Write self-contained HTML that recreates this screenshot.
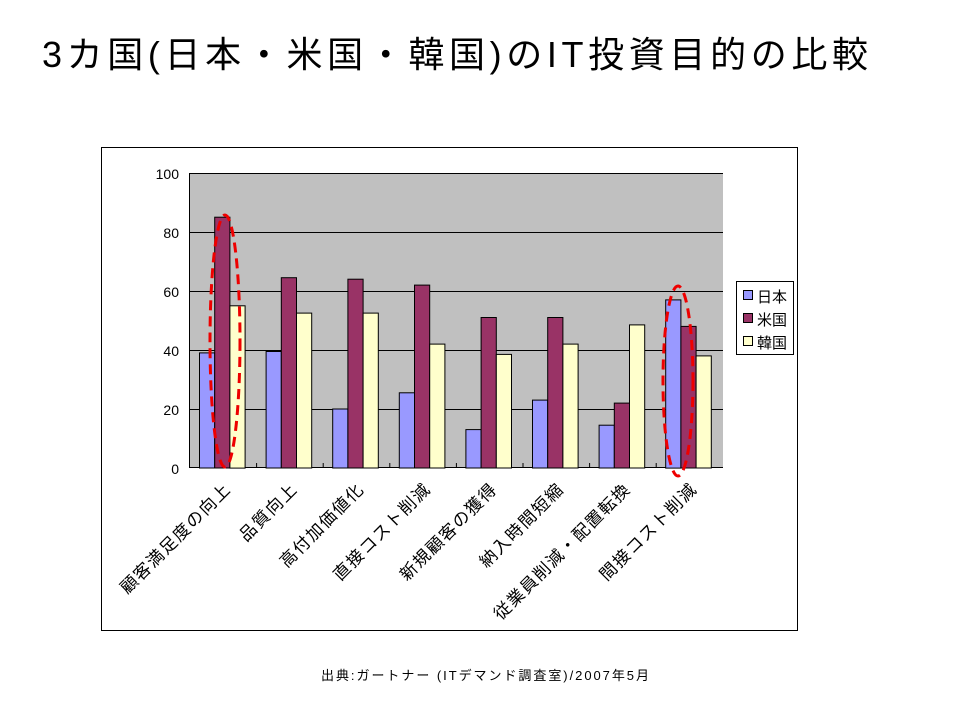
<!DOCTYPE html>
<html><head><meta charset="utf-8"><style>
body{margin:0;background:#fff;width:960px;height:720px;overflow:hidden;font-family:"Liberation Sans","Noto Sans CJK JP",sans-serif}
</style></head><body>
<svg width="960" height="720" xmlns="http://www.w3.org/2000/svg" font-family="Liberation Sans, Noto Sans CJK JP, sans-serif">
<text x="42" y="67" font-size="36" fill="#000" textLength="826" lengthAdjust="spacing">3カ国(日本・米国・韓国)のIT投資目的の比較</text>
<rect x="101.5" y="147.5" width="696" height="483" fill="#fff" stroke="#000"/>
<rect x="190" y="173" width="533" height="295" fill="#c0c0c0"/>
<g stroke="#000" stroke-width="1">
<line x1="190" y1="173.5" x2="723" y2="173.5"/>
<line x1="190" y1="232.5" x2="723" y2="232.5"/>
<line x1="190" y1="291.5" x2="723" y2="291.5"/>
<line x1="190" y1="350.5" x2="723" y2="350.5"/>
<line x1="190" y1="409.5" x2="723" y2="409.5"/>
<line x1="189.5" y1="173" x2="189.5" y2="468"/>
<line x1="190" y1="467.5" x2="723" y2="467.5"/>
</g>
<g font-size="14" text-anchor="end" fill="#000">
<text x="179" y="179">100</text><text x="179" y="238">80</text><text x="179" y="297">60</text><text x="179" y="356">40</text><text x="179" y="415">20</text><text x="179" y="474">0</text>
</g>
<g id="bars" stroke="#000" stroke-width="1"></g>
<g id="labels" font-size="17" letter-spacing="1.5" text-anchor="end" fill="#000"></g>
<ellipse cx="225" cy="341" rx="15" ry="126" fill="none" stroke="#e00" stroke-width="3" stroke-dasharray="10,6"/>
<ellipse cx="678" cy="381" rx="15" ry="95" fill="none" stroke="#e00" stroke-width="3" stroke-dasharray="10,6"/>
<rect x="736.5" y="281.5" width="57" height="73" fill="#fff" stroke="#000"/>
<rect x="743.5" y="290.5" width="9" height="9" fill="#9999ff" stroke="#000"/>
<rect x="743.5" y="313.5" width="9" height="9" fill="#993366" stroke="#000"/>
<rect x="743.5" y="336.5" width="9" height="9" fill="#ffffcc" stroke="#000"/>
<g font-size="15" fill="#000"><text x="757" y="302">日本</text><text x="757" y="325">米国</text><text x="757" y="348">韓国</text></g>
<text x="321" y="680" font-size="13" fill="#000" textLength="328" lengthAdjust="spacing">出典:ガートナー (ITデマンド調査室)/2007年5月</text>
</svg>
<script>
var d=[[39,85,55],[39.5,64.5,52.5],[20,64,52.5],[25.5,62,42],[13,51,38.5],[23,51,42],[14.5,22,48.5],[57,48,38]];
var n=["顧客満足度の向上","品質向上","高付加価値化","直接コスト削減","新規顧客の獲得","納入時間短縮","従業員削減・配置転換","間接コスト削減"];
var c=["#9999ff","#993366","#ffffcc"],ns="http://www.w3.org/2000/svg";
var b=document.getElementById("bars"),l=document.getElementById("labels");
for(var i=0;i<8;i++){var g0=190+i*66.6;
 for(var j=0;j<3;j++){var h=d[i][j]*2.95,r=document.createElementNS(ns,"rect");
  r.setAttribute("x",(g0+9.5+j*15.2).toFixed(1));r.setAttribute("y",(468-h).toFixed(1));
  r.setAttribute("width","15.2");r.setAttribute("height",h.toFixed(1));r.setAttribute("fill",c[j]);b.appendChild(r);}
 if(i>0){var t=document.createElementNS(ns,"line");t.setAttribute("x1",g0);t.setAttribute("x2",g0);t.setAttribute("y1",463);t.setAttribute("y2",468);b.appendChild(t);}
 var x=g0+42,y=490,tx=document.createElementNS(ns,"text");tx.setAttribute("x",x);tx.setAttribute("y",y);
 tx.setAttribute("transform","rotate(-45 "+x+" "+y+")");tx.textContent=n[i];l.appendChild(tx);}
</script>
</body></html>
